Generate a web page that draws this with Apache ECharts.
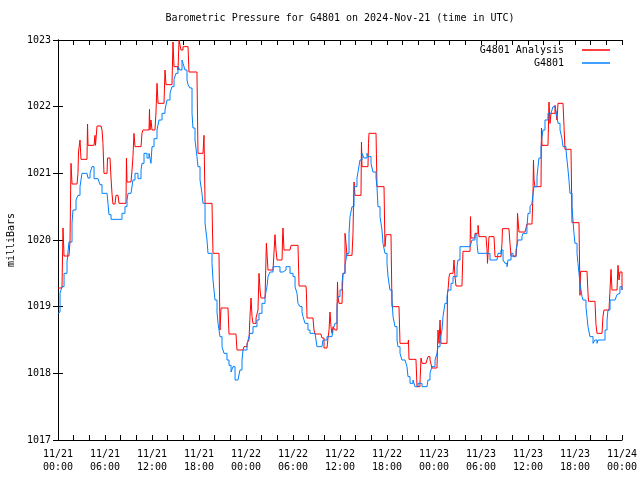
<!DOCTYPE html>
<html>
<head>
<meta charset="utf-8">
<script src="https://cdn.jsdelivr.net/npm/echarts@6/dist/echarts.min.js"></script>
<style>html,body{margin:0;padding:0;background:#fff}#c{width:640px;height:480px}</style>
</head>
<body>
<div id="c"></div>
<script>
const titleText = 'Barometric Pressure for G4801 on 2024-Nov-21 (time in UTC)';
const yName = 'milliBars';
const seriesNames = ['G4801 Analysis', 'G4801'];
const yTicks = [1017, 1018, 1019, 1020, 1021, 1022, 1023];
const xTickHours = [0, 6, 12, 18, 24, 30, 36, 42, 48, 54, 60, 66, 72];
const xTickDays = ['11/21','11/21','11/21','11/21','11/22','11/22','11/22','11/22','11/23','11/23','11/23','11/23','11/24'];
const xTickTimes = ['00:00','06:00','12:00','18:00','00:00','06:00','12:00','18:00','00:00','06:00','12:00','18:00','00:00'];

// Hours since 2024-11-21 00:00 UTC
const analysisHours = [0,0.51,0.64,0.77,1.40,1.53,1.66,1.79,2.43,2.55,2.62,2.81,2.94,3.70,3.77,3.83,4.60,4.72,4.79,4.98,5.49,5.62,5.74,5.87,6.26,6.32,6.64,6.77,6.89,7.02,7.28,7.40,7.66,7.79,8.68,8.74,8.81,9.32,9.45,9.57,9.70,9.83,10.60,10.72,10.85,11.62,11.68,11.74,11.87,12.00,12.38,12.51,12.64,12.77,13.53,13.66,13.79,14.55,14.68,14.81,15.32,15.45,15.70,15.96,16.60,16.72,17.74,17.87,18.51,18.64,18.77,19.66,19.72,19.79,20.55,20.68,20.81,21.70,21.83,22.72,22.85,23.62,23.74,24.13,24.38,24.51,24.64,24.77,24.89,25.28,25.53,25.66,25.79,25.91,26.43,26.60,26.81,27.45,27.57,27.70,27.83,27.96,28.60,28.66,28.72,28.85,29.62,29.75,30.64,30.77,31.66,31.72,31.79,32.55,32.68,32.81,33.57,33.70,33.96,34.34,34.47,34.60,34.72,34.85,34.98,35.11,35.36,35.62,35.68,35.74,35.87,36.26,36.32,36.38,36.64,36.77,36.89,37.53,37.66,37.72,37.79,37.91,38.68,38.74,38.81,39.57,39.64,39.70,40.60,40.72,41.62,41.74,41.87,42.51,42.64,43.53,43.66,44.68,44.74,44.81,45.70,45.83,46.21,46.34,46.47,46.98,47.23,47.49,47.74,48.38,48.51,48.64,48.77,48.89,49.66,49.72,49.79,49.92,50.04,50.43,50.55,50.68,50.81,51.57,51.70,52.60,52.66,52.72,53.23,53.62,53.74,54.64,54.77,54.83,55.02,55.66,55.79,56.55,56.68,56.74,57.57,57.70,57.83,58.47,58.60,58.66,58.85,59.62,59.87,60.51,60.64,60.70,60.77,60.89,61.66,61.72,61.79,62.55,62.68,62.81,62.94,63.45,63.70,63.83,64.47,64.60,64.72,65.49,65.62,66.51,66.64,66.70,67.53,67.66,67.72,68.55,68.68,68.81,69.45,69.57,69.70,70.34,70.47,70.60,70.72,71.36,71.49,71.62,71.74,72.00];
const analysisValues = [1019.28,1019.28,1020.18,1019.76,1019.76,1019.97,1021.15,1020.84,1020.84,1021.0,1021.32,1021.5,1021.21,1021.21,1021.74,1021.42,1021.42,1021.57,1021.42,1021.71,1021.71,1021.65,1021.45,1021.0,1021.0,1021.23,1021.23,1020.93,1020.7,1020.54,1020.54,1020.67,1020.7,1020.55,1020.55,1021.23,1020.87,1020.87,1021.05,1021.25,1021.6,1021.4,1021.4,1021.6,1021.65,1021.65,1021.96,1021.65,1021.8,1021.65,1021.65,1021.92,1022.35,1022.05,1022.05,1022.55,1022.33,1022.33,1022.97,1022.6,1022.55,1023.0,1022.85,1022.9,1022.9,1022.52,1022.52,1021.3,1021.3,1021.57,1020.55,1020.55,1020.15,1019.8,1019.8,1018.65,1018.98,1018.98,1018.59,1018.59,1018.35,1018.35,1018.4,1018.45,1018.5,1018.85,1019.13,1018.85,1018.75,1018.83,1018.95,1019.5,1019.25,1019.13,1019.13,1019.95,1019.55,1019.52,1019.8,1020.08,1019.85,1019.7,1019.7,1020.0,1020.18,1019.85,1019.85,1019.92,1019.92,1019.31,1019.31,1019.2,1018.83,1018.83,1018.65,1018.59,1018.59,1018.53,1018.38,1018.38,1018.53,1018.65,1018.92,1018.7,1018.6,1018.7,1018.65,1018.95,1019.37,1019.15,1019.05,1019.05,1019.3,1019.5,1020.1,1019.95,1019.77,1019.77,1020.1,1020.5,1020.87,1020.67,1020.67,1021.47,1021.1,1021.1,1021.45,1021.6,1021.6,1020.8,1020.8,1019.9,1020.08,1020.08,1019.0,1019.0,1018.45,1018.45,1018.5,1018.21,1018.21,1017.8,1017.85,1018.23,1018.15,1018.15,1018.25,1018.2,1018.08,1018.08,1018.65,1018.45,1018.8,1018.45,1018.45,1019.2,1019.25,1019.45,1019.5,1019.5,1019.7,1019.45,1019.31,1019.31,1019.83,1019.83,1020.35,1020.03,1020.1,1020.22,1020.05,1020.06,1019.85,1019.65,1020.05,1020.05,1019.75,1019.75,1019.95,1020.17,1020.17,1019.95,1019.76,1019.76,1019.95,1020.4,1020.12,1020.12,1020.24,1020.24,1020.7,1021.2,1020.9,1020.8,1020.8,1021.68,1021.42,1021.42,1022.07,1021.75,1021.9,1022.02,1021.8,1022.05,1022.05,1021.7,1021.36,1021.36,1020.26,1020.26,1019.17,1019.53,1019.53,1019.2,1019.08,1019.08,1018.73,1018.6,1018.6,1018.85,1018.95,1018.95,1019.25,1019.56,1019.25,1019.25,1019.62,1019.4,1019.52,1019.25];

const obsHours = [0,0.13,0.26,0.51,0.77,1.15,1.40,1.79,1.91,2.30,2.55,2.81,3.06,3.70,3.83,4.09,4.34,4.60,5.11,5.36,5.62,6.26,6.38,6.51,6.77,7.91,8.17,8.55,8.81,8.94,9.32,9.57,9.83,10.21,10.60,10.72,10.98,11.36,11.62,11.87,12.00,12.26,12.64,12.89,13.28,13.66,13.91,14.30,14.55,14.81,15.06,15.32,15.57,15.83,15.96,16.21,16.47,16.60,16.85,17.11,17.23,17.49,17.74,17.87,18.13,18.38,18.51,18.77,19.02,19.15,19.66,19.79,20.04,20.30,20.43,20.68,20.94,21.19,21.57,21.83,22.09,22.34,22.60,22.98,23.23,23.49,23.62,24.13,24.26,24.51,24.89,25.40,25.66,26.04,26.43,26.68,26.81,27.06,27.45,27.96,28.34,28.72,29.11,29.36,29.62,30.00,30.26,30.51,30.64,30.89,31.15,31.28,31.53,31.91,32.17,32.81,33.06,33.70,33.83,34.34,34.98,35.11,35.36,35.62,35.74,36.00,36.26,36.38,36.64,36.89,37.15,37.28,37.53,37.79,38.17,38.30,38.55,38.81,39.06,39.45,39.57,39.96,40.21,40.60,40.72,40.85,41.11,41.36,41.49,41.74,42.00,42.13,42.38,42.64,42.77,43.02,43.28,43.40,43.66,43.91,44.30,44.55,44.68,44.94,45.32,45.57,45.96,46.47,47.11,47.23,47.49,47.74,48.13,48.38,48.51,48.77,49.02,49.15,49.40,49.66,49.79,50.17,50.43,50.94,51.06,51.32,52.60,52.85,53.23,53.49,53.62,54.89,55.15,56.04,56.17,56.55,56.81,57.06,57.32,57.45,57.83,58.09,58.47,58.72,59.23,59.36,59.87,60.00,60.26,60.51,60.64,60.77,61.15,61.28,61.40,61.66,61.79,61.91,62.17,62.55,62.94,63.19,63.45,63.70,63.83,64.09,64.34,64.47,64.85,64.98,65.11,65.23,65.36,65.62,65.74,65.87,66.00,66.26,66.38,66.51,66.64,66.89,67.02,67.40,67.53,67.66,67.91,68.30,68.55,68.81,68.94,69.57,69.83,70.09,70.21,70.47,71.11,71.36,71.49,71.74,72.00];
const obsValues = [1018.9,1018.92,1019.2,1019.3,1019.5,1019.67,1019.97,1020.25,1020.45,1020.6,1020.67,1020.8,1021.0,1021.0,1020.93,1021.0,1021.1,1020.92,1020.92,1020.83,1020.7,1020.7,1020.55,1020.38,1020.31,1020.31,1020.4,1020.5,1020.6,1020.7,1020.7,1020.9,1021.0,1020.92,1021.05,1021.15,1021.3,1021.23,1021.3,1021.15,1021.4,1021.52,1021.65,1021.8,1021.9,1021.95,1022.1,1022.2,1022.3,1022.41,1022.5,1022.6,1022.55,1022.7,1022.65,1022.55,1022.4,1022.33,1022.28,1021.9,1021.68,1021.5,1021.25,1021.1,1020.9,1020.7,1020.55,1020.25,1020.0,1019.8,1019.65,1019.4,1019.1,1018.92,1018.75,1018.55,1018.4,1018.3,1018.2,1018.12,1018.02,1018.1,1017.9,1017.9,1018.05,1018.2,1018.35,1018.42,1018.5,1018.6,1018.7,1018.8,1018.9,1019.05,1019.15,1019.3,1019.45,1019.52,1019.6,1019.6,1019.52,1019.55,1019.6,1019.6,1019.5,1019.45,1019.3,1019.2,1019.05,1019.0,1018.92,1018.85,1018.75,1018.65,1018.6,1018.6,1018.4,1018.4,1018.5,1018.55,1018.55,1018.65,1018.75,1019.0,1019.15,1019.25,1019.35,1019.5,1019.62,1019.8,1020.1,1020.35,1020.5,1020.8,1020.93,1021.02,1021.2,1021.3,1021.23,1021.3,1021.25,1021.15,1021.02,1020.93,1020.8,1020.5,1020.35,1020.15,1019.95,1019.8,1019.65,1019.45,1019.25,1019.1,1018.85,1018.7,1018.5,1018.4,1018.3,1018.2,1018.2,1018.1,1017.95,1017.85,1017.9,1017.8,1017.85,1017.8,1017.8,1017.9,1018.0,1018.1,1018.2,1018.3,1018.4,1018.5,1018.65,1018.85,1019.05,1019.15,1019.25,1019.35,1019.45,1019.6,1019.7,1019.9,1019.9,1020.0,1020.08,1019.95,1019.8,1019.8,1019.7,1019.7,1019.8,1019.85,1019.7,1019.65,1019.6,1019.7,1019.8,1019.75,1019.85,1020.0,1020.05,1020.1,1020.2,1020.4,1020.5,1020.55,1020.7,1020.8,1020.95,1021.1,1021.23,1021.4,1021.55,1021.65,1021.8,1021.9,1021.9,1022.0,1022.0,1021.85,1021.75,1021.65,1021.52,1021.4,1021.35,1021.2,1021.05,1020.9,1020.7,1020.5,1020.3,1020.1,1019.95,1019.8,1019.65,1019.5,1019.35,1019.15,1019.1,1019.0,1018.85,1018.7,1018.55,1018.45,1018.5,1018.45,1018.5,1018.5,1018.65,1018.8,1018.95,1019.1,1019.1,1019.18,1019.2,1019.3,1019.25];

const FONT = 'DejaVu Sans Mono';
const analysisData = analysisHours.map((h, i) => [h, analysisValues[i]]);
const obsData = obsHours.map((h, i) => [h, obsValues[i]]);

function xLabel(v) {
  const i = xTickHours.indexOf(v);
  return i < 0 ? '' : xTickDays[i] + '\n' + xTickTimes[i];
}

const axisLine = { show: true, lineStyle: { color: '#000', width: 1 } };
const tick = { show: true, inside: true, length: 5, lineStyle: { color: '#000' } };
const minor = { show: true, splitNumber: 3, length: 5, lineStyle: { color: '#000' } };

const chart = echarts.init(document.getElementById('c'), null, { renderer: 'canvas' });
chart.setOption({
  animation: false,
  backgroundColor: '#fff',
  textStyle: { fontFamily: FONT },
  graphic: [{
    type: 'text', x: 340, y: 13,
    style: { text: titleText, font: '10px "' + FONT + '"', fill: '#000', textAlign: 'center', textVerticalAlign: 'top' }
  }],
  legend: {
    data: seriesNames,
    orient: 'vertical',
    right: 30, top: 44,
    padding: 0,
    align: 'right',
    itemWidth: 28, itemHeight: 1.5, itemGap: 1,
    icon: 'rect',
    textStyle: { fontFamily: FONT, fontSize: 10, color: '#000', lineHeight: 12, padding: [0, 13, 0, 0] }
  },
  grid: { left: 58, right: 18, top: 40, bottom: 40, containLabel: false, outerBoundsMode: 'none' },
  xAxis: [{
    type: 'value', min: 0, max: 72, interval: 6,
    axisLine: axisLine, axisTick: tick, minorTick: minor, splitLine: { show: false },
    axisLabel: { formatter: xLabel, fontFamily: FONT, fontSize: 10, color: '#000', lineHeight: 13, margin: 8 }
  }, {
    type: 'value', min: 0, max: 72, interval: 6, position: 'top',
    axisLine: axisLine, axisTick: tick, minorTick: minor, splitLine: { show: false },
    axisLabel: { show: false }
  }],
  yAxis: [{
    type: 'value', min: yTicks[0], max: yTicks[yTicks.length - 1], interval: 1,
    name: yName, nameLocation: 'middle', nameGap: 42,
    nameTextStyle: { fontFamily: FONT, fontSize: 10, color: '#000' },
    axisLine: axisLine, axisTick: tick, splitLine: { show: false },
    axisLabel: { fontFamily: FONT, fontSize: 10, color: '#000', margin: 7, formatter: v => String(v) }
  }, {
    type: 'value', min: yTicks[0], max: yTicks[yTicks.length - 1], interval: 1, position: 'right',
    axisLine: axisLine, axisTick: tick, splitLine: { show: false },
    axisLabel: { show: false }
  }],
  series: [{
    name: seriesNames[0], type: 'line', step: 'end', data: analysisData,
    showSymbol: false, symbol: 'none',
    lineStyle: { color: '#ff0000', width: 1 }, itemStyle: { color: '#ff0000' }
  }, {
    name: seriesNames[1], type: 'line', step: 'end', data: obsData,
    showSymbol: false, symbol: 'none',
    lineStyle: { color: '#0080ff', width: 1 }, itemStyle: { color: '#0080ff' }
  }]
});
</script>
</body>
</html>
